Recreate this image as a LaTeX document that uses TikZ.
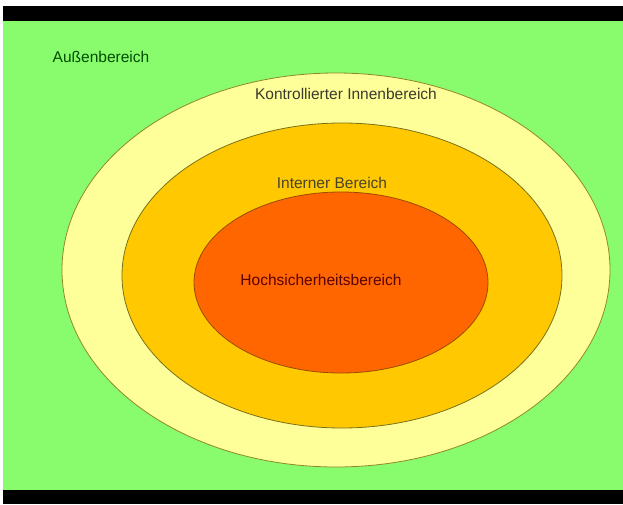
\documentclass[tikz,border=0pt]{standalone}
\usepackage{fontspec}
\setmainfont{Liberation Sans}
\usepackage{tikz}
\usetikzlibrary{positioning}

\definecolor{aussengruen}{HTML}{88FC6C}
\definecolor{hellgelb}{HTML}{FFFF99}
\definecolor{goldgelb}{HTML}{FFC800}
\definecolor{rotorange}{HTML}{FF6600}

\begin{document}
\begin{tikzpicture}[x=1pt,y=-1pt,
        zone/.style={line width=0.8pt},
        zonename/.style={inner sep=0pt,font=\fontsize{15.5}{18}\selectfont}]
   \useasboundingbox (0,0) rectangle (623,504);
   % screen frame
   \fill[white] (0,0) rectangle (623,504);
   \fill[black] (3,6) rectangle (623,21);
   \fill[aussengruen] (3,21) rectangle (623,490);
   \fill[black] (3,490) rectangle (623,504);
   % nested zones
   \draw[zone,fill=hellgelb,draw=olive!70!gray] (336,270) ellipse (274 and 197);
   \draw[zone,fill=goldgelb,draw=olive!80!black] (342,275.5) ellipse (220 and 152.5);
   \draw[zone,fill=rotorange,draw=orange!60!black] (341,282.5) ellipse (147 and 90.5);
   % names
   \node[zonename,text=green!30!black] (aussen) at (101,57) {Außenbereich};
   \node[zonename,text=black!75!olive] (kontrolliert) at (346,94) {Kontrollierter Innenbereich};
   \node[zonename,text=black!65!olive] (intern) at (332,183) {Interner Bereich};
   \node[zonename,text=red!35!black] (hoch) at (321,280) {Hochsicherheitsbereich};
\end{tikzpicture}
\end{document}
